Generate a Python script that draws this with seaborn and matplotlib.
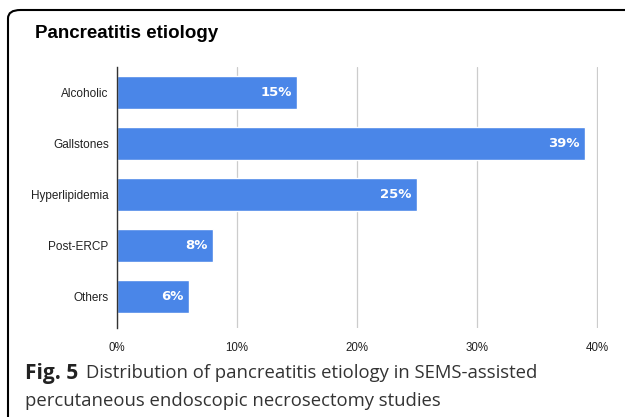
import pandas as pd
import matplotlib.pyplot as plt
import seaborn as sns
from matplotlib.patches import FancyBboxPatch

sns.set_theme(style="white")
plt.rcParams['font.family'] = ['Liberation Sans', 'DejaVu Sans']

categories = ["Alcoholic", "Gallstones", "Hyperlipidemia", "Post-ERCP", "Others"]
percent = [15, 39, 25, 8, 6]
xticks = [0, 10, 20, 30, 40]

df = pd.DataFrame({"etiology": categories, "pct": percent})

fig = plt.figure(figsize=(6.25, 4.17), dpi=100)
ax = fig.add_axes([0.1872, 0.2134, 0.7696, 0.6259])

sns.barplot(data=df, x="pct", y="etiology", color="#4a86e8", width=0.65,
            saturation=1, ax=ax, zorder=3)

ax.set_xlim(0, 40.08)
ax.set_ylim(4.63, -0.51)
ax.set_xticks(xticks)
ax.set_xticklabels([f"{t}%" for t in xticks], fontsize=8.3, color="#222222")
ax.tick_params(axis="y", labelsize=8.5, length=0, pad=6, labelcolor="#222222")
ax.tick_params(axis="x", length=0, pad=10)
ax.set_xlabel("")
ax.set_ylabel("")
ax.grid(axis="x", color="#cccccc", linewidth=0.9, zorder=0)
for s in ["top", "right", "bottom"]:
    ax.spines[s].set_visible(False)
ax.spines["left"].set_color("#333333")
ax.spines["left"].set_linewidth(1)
ax.spines["left"].set_zorder(4)

for i, v in enumerate(percent):
    ax.text(v - 0.45, i, f"{v}%", ha="right", va="center", color="white",
            fontsize=9.5, fontweight="bold", family=["DejaVu Sans"], zorder=5)

fig.text(35 / 625, 1 - 34 / 417, "Pancreatitis etiology", fontsize=13.5,
         fontweight="bold", va="center", ha="left", color="black")

fig.text(25 / 625, 1 - 373 / 417, "Fig. 5", fontsize=15, fontweight="bold",
         va="center", ha="left", color="#222222", family=["Open Sans"])
fig.text(86 / 625, 1 - 373 / 417, "Distribution of pancreatitis etiology in SEMS-assisted",
         fontsize=13.3, va="center", ha="left", color="#333333", family=["Open Sans"])
fig.text(25 / 625, 1 - 401 / 417, "percutaneous endoscopic necrosectomy studies",
         fontsize=13.3, va="center", ha="left", color="#333333", family=["Open Sans"])

box = FancyBboxPatch((8 / 625, -0.05), 1.2, 1 - 10 / 417 + 0.05,
                     boxstyle="round,pad=0,rounding_size=0.02",
                     transform=fig.transFigure, fill=False,
                     edgecolor="black", linewidth=1.5, clip_on=False)
fig.patches.append(box)

fig.savefig("out.png", dpi=100)
